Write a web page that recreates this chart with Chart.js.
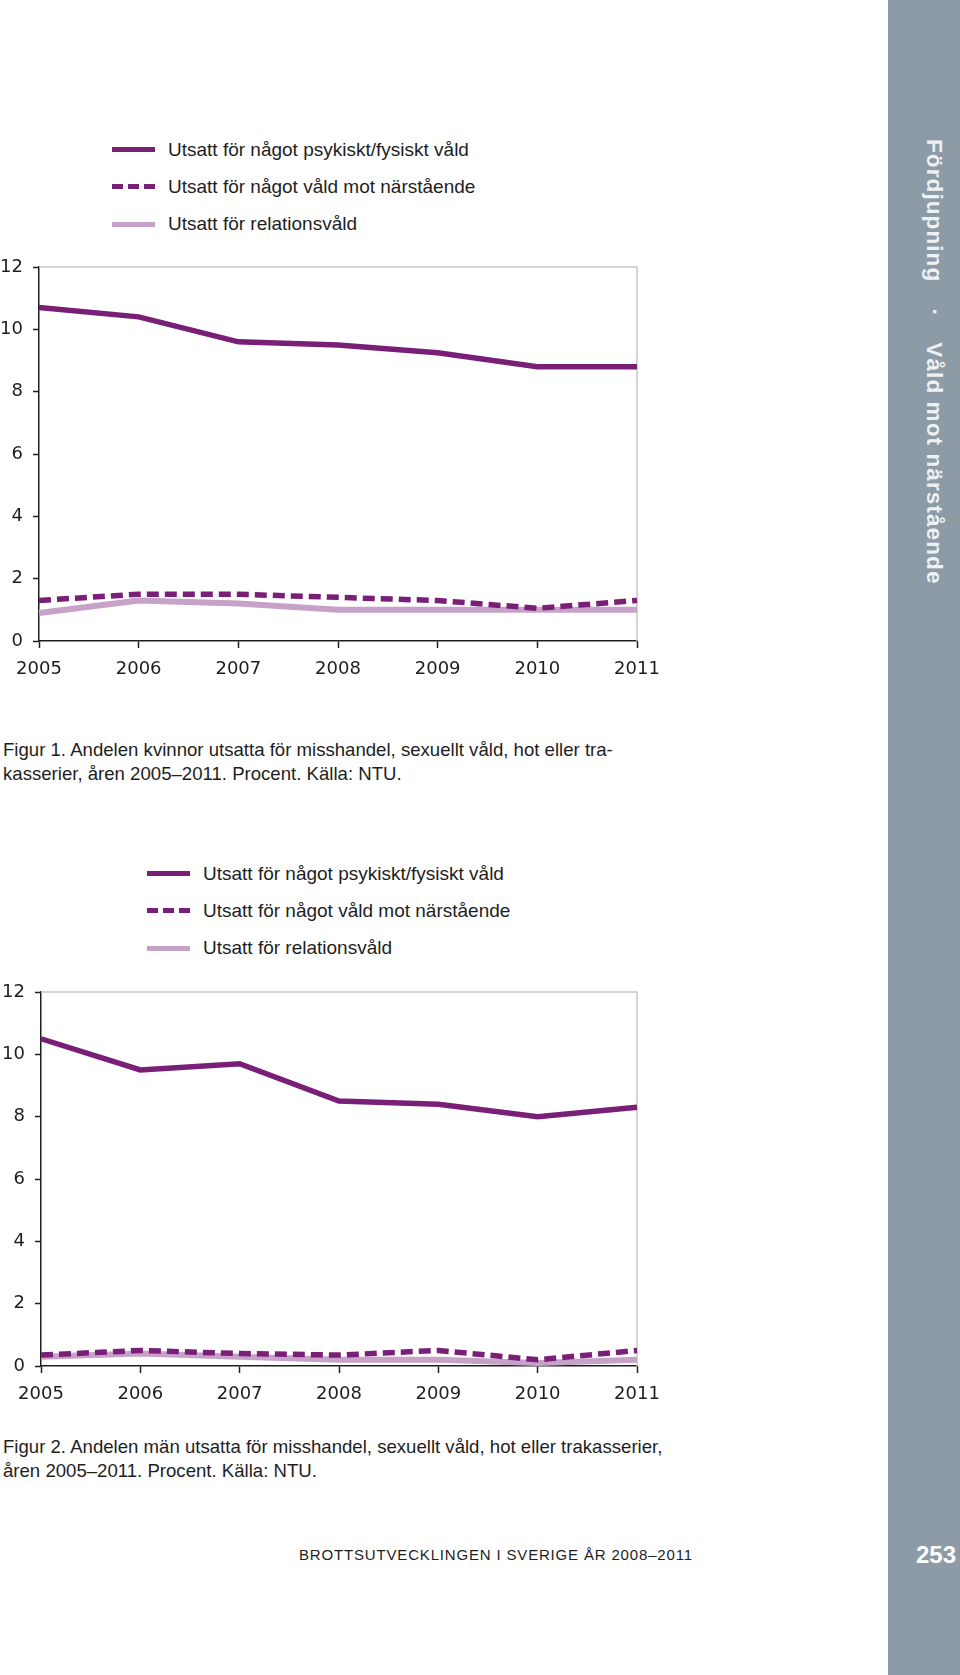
<!DOCTYPE html>
<html lang="sv">
<head>
<meta charset="utf-8">
<title>Figur 1 och 2</title>
<script src="https://cdn.jsdelivr.net/npm/chart.js@4.4.1/dist/chart.umd.min.js"></script>
<style>
  html, body { margin: 0; padding: 0; background: #fff; }
  body { width: 960px; height: 1675px; position: relative; overflow: hidden;
         font-family: "Liberation Sans", Arial, sans-serif; color: #1e1e1e; }
  canvas { position: absolute; left: 0; }
  .legend { position: absolute; }
  .legend .item { position: absolute; left: 0; height: 0; white-space: nowrap; }
  .legend .swatch { position: absolute; left: 0; width: 43px; height: 5px; top: -2.5px; }
  .legend .label { position: absolute; top: -11px; font-size: 19px; line-height: 22px; }
  .solid { background: #7a1f78; }
  .dashed { background: repeating-linear-gradient(90deg, #7a1f78 0 11px, transparent 11px 16px); }
  .light { background: #c6a2c9; }
  .caption { position: absolute; left: 3px; font-size: 18.6px; line-height: 23.5px; }
  .side { position: absolute; left: 888px; top: 0; width: 72px; height: 1675px; background: #8c9ba6; }
  .side-title { position: absolute; left: 934px; top: 139px; transform-origin: 0 0;
                transform: rotate(90deg) translate(0, -50%); white-space: nowrap;
                color: #eef1f3; font-size: 22.5px; font-weight: bold; letter-spacing: 1.1px; line-height: 26px; }
  .side-title .dot { display: inline-block; width: 60px; text-align: center; letter-spacing: 0; }
  .footer { position: absolute; left: 299px; top: 1546px; font-size: 15px; letter-spacing: 0.83px; }
  .pageno { position: absolute; left: 916px; top: 1541px; font-size: 24px; font-weight: bold; color: #fff; }
</style>
</head>
<body>
<div class="side"></div>
<div class="side-title"><span>Fördjupning</span><span class="dot">·</span><span>Våld mot närstående</span></div>

<div class="legend" id="legend1" style="left:112px; top:149.5px;"></div>
<canvas id="chart1" width="680" height="460" style="top:240px;"></canvas>
<div class="caption" style="top:738px;">Figur 1. Andelen kvinnor utsatta för misshandel, sexuellt våld, hot eller tra-<br>kasserier, åren 2005–2011. Procent. Källa: NTU.</div>

<div class="legend" id="legend2" style="left:147px; top:873.5px;"></div>
<canvas id="chart2" width="680" height="460" style="top:965px;"></canvas>
<div class="caption" style="top:1435px;">Figur 2. Andelen män utsatta för misshandel, sexuellt våld, hot eller trakasserier,<br>åren 2005–2011. Procent. Källa: NTU.</div>

<div class="footer">BROTTSUTVECKLINGEN I SVERIGE ÅR 2008–2011</div>
<div class="pageno">253</div>

<script>
// Data
const years = ['2005', '2006', '2007', '2008', '2009', '2010', '2011'];
const seriesNames = [
    'Utsatt för något psykiskt/fysiskt våld',
    'Utsatt för något våld mot närstående',
    'Utsatt för relationsvåld'
];
const yTicks = [0, 2, 4, 6, 8, 10, 12];

// Figur 1: kvinnor
const womenAny = [10.7, 10.4, 9.6, 9.5, 9.25, 8.8, 8.8];
const womenClose = [1.3, 1.5, 1.5, 1.4, 1.3, 1.05, 1.3];
const womenPartner = [0.9, 1.3, 1.2, 1.0, 1.0, 1.0, 1.0];

// Figur 2: män
const menAny = [10.5, 9.5, 9.7, 8.5, 8.4, 8.0, 8.3];
const menClose = [0.35, 0.5, 0.4, 0.35, 0.5, 0.2, 0.5];
const menPartner = [0.3, 0.4, 0.3, 0.2, 0.2, 0.1, 0.2];

const darkPurple = '#7a1f78';
const lightPurple = '#c6a2c9';
const swatchClass = ['solid', 'dashed', 'light'];

// light grey frame on top and right of the plot area
const frameLines = {
    id: 'frameLines',
    beforeDatasetsDraw(chart) {
        const ctx = chart.ctx;
        const a = chart.chartArea;
        ctx.save();
        ctx.strokeStyle = '#c8c8c8';
        ctx.lineWidth = 1.5;
        ctx.beginPath();
        ctx.moveTo(a.left, a.top);
        ctx.lineTo(a.right, a.top);
        ctx.lineTo(a.right, a.bottom);
        ctx.stroke();
        ctx.restore();
    }
};

function buildLegend(id) {
    const box = document.getElementById(id);
    seriesNames.forEach((name, i) => {
        const item = document.createElement('div');
        item.className = 'item';
        item.style.top = (i * 37.4) + 'px';
        item.innerHTML = `<div class="swatch ${swatchClass[i]}"></div><div class="label" style="left:56px">${name}</div>`;
        box.appendChild(item);
    });
}

function makeChart(id, anyData, closeData, partnerData, axisWidth) {
    const tickFont = { family: 'DejaVu Sans', size: 18 };
    return new Chart(document.getElementById(id), {
        type: 'line',
        data: {
            labels: years,
            datasets: [{
                label: seriesNames[0],
                data: anyData,
                borderColor: darkPurple,
                borderWidth: 5.5,
                pointRadius: 0,
                tension: 0
            }, {
                label: seriesNames[1],
                data: closeData,
                borderColor: darkPurple,
                borderWidth: 5.5,
                borderDash: [12, 6],
                pointRadius: 0,
                tension: 0
            }, {
                label: seriesNames[2],
                data: partnerData,
                borderColor: lightPurple,
                borderWidth: 6,
                pointRadius: 0,
                tension: 0
            }]
        },
        options: {
            responsive: false,
            animation: false,
            layout: { padding: { top: 27, right: 43, bottom: 0, left: 0 } },
            plugins: {
                legend: { display: false },
                tooltip: { enabled: false }
            },
            scales: {
                x: {
                    offset: false,
                    grid: { drawOnChartArea: false, tickLength: 7, tickColor: '#1e1e1e', tickWidth: 1.5 },
                    border: { color: '#1e1e1e', width: 1.5 },
                    ticks: { color: '#1e1e1e', font: tickFont, padding: 11, maxRotation: 0, autoSkip: false },
                    afterFit(scale) { scale.height = 59; }
                },
                y: {
                    min: 0,
                    max: 12,
                    afterBuildTicks(scale) { scale.ticks = yTicks.map(v => ({ value: v })); },
                    grid: { drawOnChartArea: false, tickLength: 6, tickColor: '#1e1e1e', tickWidth: 1.5 },
                    border: { color: '#1e1e1e', width: 1.5 },
                    ticks: { color: '#1e1e1e', font: tickFont, padding: 10 },
                    afterFit(scale) { scale.width = axisWidth; }
                }
            }
        },
        plugins: [frameLines]
    });
}

buildLegend('legend1');
buildLegend('legend2');
makeChart('chart1', womenAny, womenClose, womenPartner, 39);
makeChart('chart2', menAny, menClose, menPartner, 41);
</script>
</body>
</html>
